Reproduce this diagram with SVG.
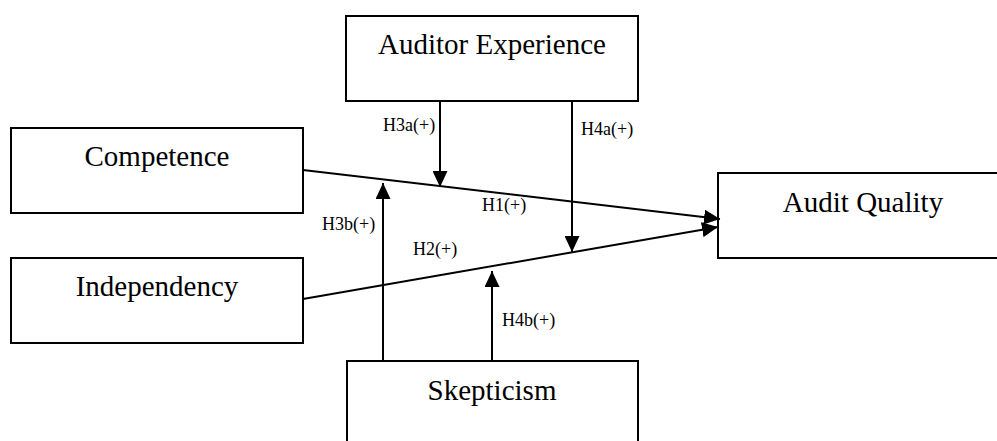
<svg xmlns="http://www.w3.org/2000/svg" width="997" height="441" viewBox="0 0 997 441">
  <style>
    .box { fill: #ffffff; stroke: #000000; stroke-width: 2; }
    .title { font-family: "Liberation Serif", "Times New Roman", serif; font-size: 29px; fill: #000000; text-anchor: middle; }
    .lbl { font-family: "Liberation Serif", "Times New Roman", serif; font-size: 18px; fill: #000000; }
    .edge { fill: none; stroke: #000000; stroke-width: 2; }
  </style>
  <defs>
    <marker id="arrow" markerUnits="userSpaceOnUse" viewBox="0 0 16 15" refX="16" refY="7.5" markerWidth="16" markerHeight="15" orient="auto">
      <path d="M0,0 L16,7.5 L0,15 Z" fill="#000000"/>
    </marker>
  </defs>
  <rect width="997" height="441" fill="#ffffff"/>

  <g id="auditor-experience">
    <rect class="box" x="346" y="16" width="292" height="85"/>
    <text class="title" x="492" y="54">Auditor Experience</text>
  </g>

  <g id="competence">
    <rect class="box" x="11" y="128" width="292" height="85"/>
    <text class="title" x="157" y="166">Competence</text>
  </g>

  <g id="independency">
    <rect class="box" x="11" y="258" width="292" height="85"/>
    <text class="title" x="157" y="296">Independency</text>
  </g>

  <g id="audit-quality">
    <rect class="box" x="718" y="173" width="292" height="85"/>
    <text class="title" x="863" y="212">Audit Quality</text>
  </g>

  <g id="skepticism">
    <rect class="box" x="347" y="361" width="291" height="85"/>
    <text class="title" x="492" y="400">Skepticism</text>
  </g>

  <g id="connectors">
    <!-- direct effects -->
    <line class="edge" x1="303" y1="170" x2="720" y2="219" marker-end="url(#arrow)"/>
    <line class="edge" x1="303" y1="299" x2="718" y2="227" marker-end="url(#arrow)"/>
    <!-- moderation by auditor experience -->
    <line class="edge" x1="440" y1="101" x2="440" y2="187" marker-end="url(#arrow)"/>
    <line class="edge" x1="572" y1="101" x2="572" y2="252" marker-end="url(#arrow)"/>
    <!-- moderation by skepticism -->
    <line class="edge" x1="383" y1="361" x2="383" y2="183" marker-end="url(#arrow)"/>
    <line class="edge" x1="492" y1="361" x2="492" y2="271" marker-end="url(#arrow)"/>
  </g>

  <g id="labels">
    <text class="lbl" x="383" y="131">H3a(+)</text>
    <text class="lbl" x="581" y="135">H4a(+)</text>
    <text class="lbl" x="482" y="211">H1(+)</text>
    <text class="lbl" x="322" y="230">H3b(+)</text>
    <text class="lbl" x="413" y="255">H2(+)</text>
    <text class="lbl" x="502" y="326">H4b(+)</text>
  </g>
</svg>
